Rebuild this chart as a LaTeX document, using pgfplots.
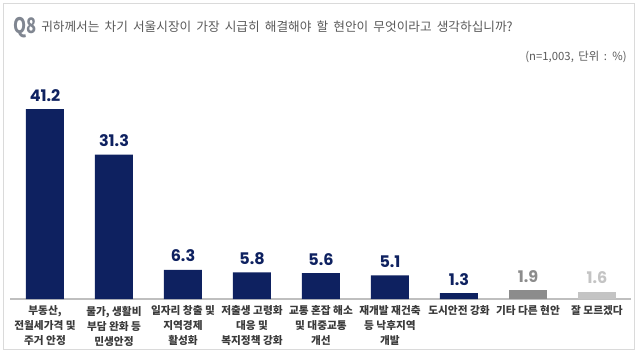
\documentclass[border=0pt]{standalone}
\usepackage{fontspec}
\usepackage{graphicx}
\setmainfont{Noto Sans CJK KR}
\newfontfamily\numfont{Poppins}
\newfontfamily\titlefont{Noto Sans CJK KR}[WordSpace=1.8]
\usepackage{pgfplots}
\pgfplotsset{compat=1.18}
\definecolor{navy}{HTML}{0E2160}
\definecolor{midgray}{HTML}{8C8C8C}
\definecolor{lightgray2}{HTML}{C4C4C4}
\definecolor{framegray}{HTML}{DADADA}
\definecolor{axisgray}{HTML}{BFBFBF}
\definecolor{titlegray}{HTML}{808691}
\definecolor{textgray}{HTML}{595959}
\definecolor{labelgray}{HTML}{3A3A3A}
\begin{document}
\begin{tikzpicture}[x=0.75pt,y=0.75pt]
\draw[framegray, line width=0.9pt] (3.5,4.5) rectangle (634.5,350.5);
\node[anchor=base west, inner sep=0, text=titlegray, font=\bfseries\fontsize{16}{16}\selectfont] at (13,320) {\scalebox{0.78}[1]{Q8}};
\node[anchor=base west, inner sep=0, text=textgray, font=\titlefont\fontsize{9.5}{9.5}\selectfont] at (41,322) {귀하께서는 차기 서울시장이 가장 시급히 해결해야 할 현안이 무엇이라고 생각하십니까?};
\node[anchor=base east, inner sep=0, text=textgray, font=\titlefont\fontsize{8.5}{8.5}\selectfont] at (627,293) {(n=1,003, 단위 : \%)};
\begin{axis}[
  at={(7.875pt,41.25pt)}, anchor=south west,
  scale only axis, width=465.75pt, height=172.875pt,
  xmin=-0.5, xmax=8.5, ymin=0, ymax=50,
  ybar, bar width=28.5pt,
  axis x line*=bottom, axis y line=none,
  axis line style={-, draw=axisgray, line width=0.9pt},
  xtick={0,...,8}, major tick length=0pt,
  xticklabels={{부동산,\\전월세가격 및\\주거 안정},{물가, 생활비\\부담 완화 등\\민생안정},{일자리 창출 및\\지역경제\\활성화},{저출생 고령화\\대응 및\\복지정책 강화},{교통 혼잡 해소\\및 대중교통\\개선},{재개발 재건축\\등 낙후지역\\개발},{도시안전 강화},{기타 다른 현안},{잘 모르겠다}},
  xticklabel style={align=center, font=\bfseries\fontsize{8}{11.25}\selectfont, text=labelgray, inner sep=0pt, yshift=-5pt},
  ytick=\empty,
  clip=false,
  nodes near coords,
  point meta=y,
  /pgf/number format/.cd, fixed, fixed zerofill, precision=1, assume math mode=true,
  /pgfplots/.cd,
  nodes near coords style={font=\numfont\bfseries\fontsize{12}{12}\selectfont, anchor=base, yshift=6pt},
]
\addplot[fill=navy, draw=none, bar shift=0pt, every node near coord/.append style={text=navy}] coordinates {(0,41.2) (1,31.3) (2,6.3) (3,5.8) (4,5.6) (5,5.1) (6,1.3)};
\addplot[fill=midgray, draw=none, bar shift=0pt, every node near coord/.append style={text=midgray}] coordinates {(7,1.9)};
\addplot[fill=lightgray2, draw=none, bar shift=0pt, every node near coord/.append style={text=lightgray2}] coordinates {(8,1.6)};
\end{axis}
\pgfresetboundingbox
\path (0,0) rectangle (640,354);
\end{tikzpicture}
\end{document}
